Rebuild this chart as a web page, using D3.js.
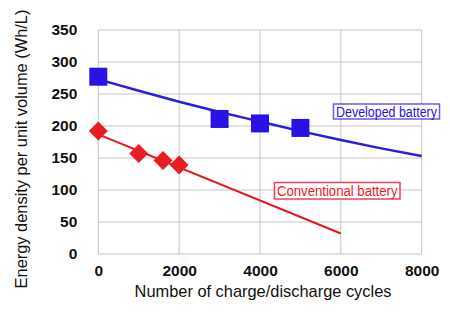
<!DOCTYPE html>
<html><head><meta charset="utf-8">
<script src="https://cdn.jsdelivr.net/npm/d3@7"></script>
<style>body{margin:0;background:#fff}svg{display:block}</style>
</head><body>
<script>
const xTicks = [0, 2000, 4000, 6000, 8000];
const yTicks = [0, 50, 100, 150, 200, 250, 300, 350];
const devCycles = [0, 3000, 4000, 5000];
const devValues = [277, 211, 204, 197];
const convCycles = [0, 1000, 1600, 2000];
const convValues = [192, 157, 146, 139];
const devTrendCycles = [0, 1000, 2000, 3000, 4000, 5000, 6000, 7000, 8000];
const devTrendValues = [273, 255, 238, 222, 207, 192, 178, 165, 153];
const convTrendCycles = [0, 6000];
const convTrendValues = [187, 32];
const xTitle = "Number of charge/discharge cycles";
const yTitle = "Energy density per unit volume (Wh/L)";
const devLabel = "Developed battery";
const convLabel = "Conventional battery";

const W = 450, H = 321;
const svg = d3.select("body").append("svg").attr("width", W).attr("height", H);
const x = d3.scaleLinear().domain([0, 8000]).range([98.3, 421.7]);
const y = d3.scaleLinear().domain([0, 350]).range([254, 30]);
const font = "'Liberation Sans', Arial, sans-serif";

// grid
const g = svg.append("g");
g.selectAll("line.h").data(yTicks).join("line")
  .attr("x1", x(0)).attr("x2", x(8000)).attr("y1", d => y(d)).attr("y2", d => y(d))
  .attr("stroke", "#c4c4c4").attr("stroke-width", 1);
g.selectAll("line.v").data(xTicks).join("line")
  .attr("y1", y(0)).attr("y2", y(350)).attr("x1", d => x(d)).attr("x2", d => x(d))
  .attr("stroke", "#c4c4c4").attr("stroke-width", 1);

// axes labels
const xa = svg.append("g").attr("transform", `translate(0,${y(0)})`)
  .call(d3.axisBottom(x).tickValues(xTicks).tickSize(0).tickPadding(11).tickFormat(d3.format("d")));
xa.select(".domain").remove();
xa.selectAll("text").attr("font-family", font).attr("font-size", 15.5).attr("font-weight", "bold").attr("fill", "#111");
const ya = svg.append("g").attr("transform", `translate(${x(0)},0)`)
  .call(d3.axisLeft(y).tickValues(yTicks).tickSize(0).tickPadding(21));
ya.select(".domain").remove();
ya.selectAll("text").attr("font-family", font).attr("font-size", 15.5).attr("font-weight", "bold").attr("fill", "#111");

svg.append("text").attr("x", 263).attr("y", 297).attr("text-anchor", "middle")
  .attr("font-family", font).attr("font-size", 16.4).attr("fill", "#111").text(xTitle);
svg.append("text").attr("transform", "translate(27,149) rotate(-90)").attr("text-anchor", "middle")
  .attr("font-family", font).attr("font-size", 16.4).attr("fill", "#111").text(yTitle);

// trend lines
const line = d3.line().curve(d3.curveMonotoneX);
svg.append("path").attr("d", line(devTrendCycles.map((c, i) => [x(c), y(devTrendValues[i])])))
  .attr("fill", "none").attr("stroke", "#2b1fd6").attr("stroke-width", 2.5);
svg.append("path").attr("d", line(convTrendCycles.map((c, i) => [x(c), y(convTrendValues[i])])))
  .attr("fill", "none").attr("stroke", "#e8141e").attr("stroke-width", 2);

// markers
svg.selectAll("rect.dev").data(devCycles).join("rect")
  .attr("x", d => x(d) - 9).attr("y", (d, i) => y(devValues[i]) - 9)
  .attr("width", 18).attr("height", 18).attr("fill", "#2a12e6");
svg.selectAll("path.conv").data(convCycles).join("path")
  .attr("d", "M0,-9.5L9.5,0L0,9.5L-9.5,0Z")
  .attr("transform", (d, i) => `translate(${x(d)},${y(convValues[i])})`)
  .attr("fill", "#ec1a22");

// labels
function label(txt, x0, y0, w, h, col, bcol) {
  svg.append("rect").attr("x", x0).attr("y", y0).attr("width", w).attr("height", h)
    .attr("fill", "#fff").attr("stroke", bcol).attr("stroke-width", 1.5);
  svg.append("text").attr("x", x0 + w / 2).attr("y", y0 + h / 2 + 5).attr("text-anchor", "middle")
    .attr("font-family", font).attr("font-size", 14)
    .attr("textLength", w - 5).attr("lengthAdjust", "spacingAndGlyphs")
    .attr("fill", col).text(txt);
}
label(devLabel, 333.5, 104, 106, 15, "#2a12e6", "#6a5ae8");
label(convLabel, 274.5, 182.5, 125.5, 16.5, "#ec1a22", "#e8405a");
</script>
</body></html>
